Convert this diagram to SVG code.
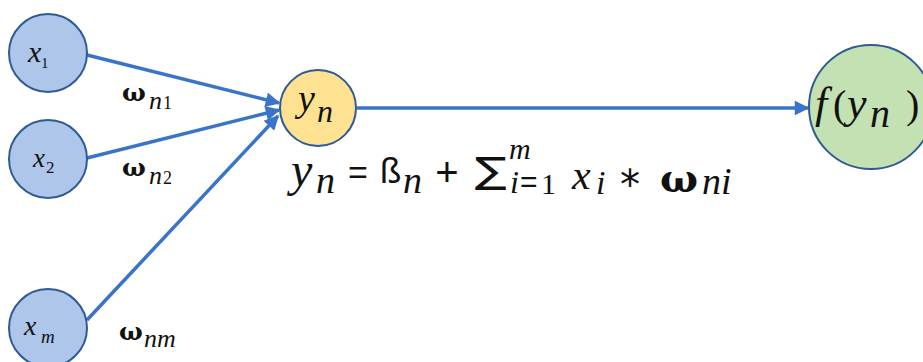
<svg xmlns="http://www.w3.org/2000/svg" width="923" height="362" viewBox="0 0 923 362">
<style>
.in{fill:#adc6ea;stroke:#2e5a96;stroke-width:2}
.c{stroke:#3a74c8;stroke-width:3.5;fill:none}
.m{font-family:"Liberation Serif","Times New Roman",serif;font-style:italic;fill:#111}
.r{font-family:"Liberation Serif","Times New Roman",serif;fill:#111}
.s{font-family:"Liberation Sans","DejaVu Sans",sans-serif;fill:#111}
.d{font-family:"DejaVu Sans",sans-serif;fill:#111}
.w{font-family:"DejaVu Serif",serif;font-weight:bold;fill:#111}
</style>
<defs>
<marker id="ah" viewBox="0 0 10 10" refX="9" refY="5" markerWidth="4.6" markerHeight="4.2" markerUnits="strokeWidth" orient="auto">
<path d="M0,0 L10,5 L0,10 z" fill="#3a74c8"/>
</marker>
</defs>
<g id="connectors">
<line class="c" x1="87" y1="55" x2="279" y2="103" marker-end="url(#ah)"/>
<line class="c" x1="87" y1="158" x2="279" y2="110" marker-end="url(#ah)"/>
<line class="c" x1="87" y1="320" x2="278" y2="116" marker-end="url(#ah)"/>
<line class="c" x1="357" y1="108" x2="808" y2="108" marker-end="url(#ah)"/>
</g>
<g id="x1"><circle class="in" cx="48" cy="53" r="39"/><text class="m" x="28" y="62" font-size="30">x</text><text class="r" x="41" y="68" font-size="15">1</text></g>
<g id="x2"><circle class="in" cx="48" cy="159" r="39"/><text class="m" x="33" y="167" font-size="27">x</text><text class="r" x="46" y="173" font-size="17">2</text></g>
<g id="xm"><circle class="in" cx="48" cy="328" r="39"/><text class="m" x="24" y="335" font-size="28">x</text><text class="m" x="41" y="343" font-size="19">m</text></g>
<g id="yn"><circle cx="318" cy="108" r="38" fill="#fee191" stroke="#2e5a96" stroke-width="2"/><text class="m" x="298" y="111" font-size="38">y</text><text class="m" x="317" y="122" font-size="32">n</text></g>
<g id="fyn"><circle cx="871" cy="107" r="62" fill="#c3e1b2" stroke="#2e5a96" stroke-width="2"/><text class="m" x="815" y="118" font-size="44">f</text><text class="r" x="833" y="118" font-size="40">(</text><text class="m" x="847" y="118" font-size="44">y</text><text class="m" x="870" y="127" font-size="40">n</text><text class="r" x="906" y="118" font-size="40">)</text></g>
<g id="labels">
<text class="w" x="122" y="101" font-size="25">ω</text><text class="m" x="149" y="109" font-size="26">n</text><text class="r" x="163" y="109" font-size="18">1</text>
<text class="w" x="122" y="176" font-size="25">ω</text><text class="m" x="149" y="184" font-size="26">n</text><text class="r" x="163" y="184" font-size="18">2</text>
<text class="w" x="119" y="340" font-size="25">ω</text><text class="m" x="144" y="347" font-size="26">nm</text>
</g>
<g id="formula">
<text class="m" x="291" y="186" font-size="48">y</text>
<text class="m" x="316" y="193" font-size="38">n</text>
<text class="s" x="348" y="184" font-size="34">=</text>
<text class="s" x="380" y="183" font-size="35">ß</text>
<text class="m" x="403" y="193" font-size="38">n</text>
<text class="s" x="447" y="186" font-size="40" text-anchor="middle">+</text>
<text class="d" x="475" y="183" font-size="36" textLength="32" lengthAdjust="spacingAndGlyphs">∑</text>
<text class="m" x="509" y="159" font-size="30">m</text>
<text class="m" x="510" y="193" font-size="32">i</text>
<text class="s" x="520" y="192" font-size="30">=</text>
<text class="r" x="541" y="194" font-size="30">1</text>
<text class="m" x="572" y="189" font-size="42">x</text>
<text class="m" x="596" y="194" font-size="34">i</text>
<text class="d" x="620" y="199" font-size="40">*</text>
<text class="w" x="660" y="192" font-size="40">ω</text>
<text class="m" x="702" y="194" font-size="38">ni</text>
</g>
</svg>
